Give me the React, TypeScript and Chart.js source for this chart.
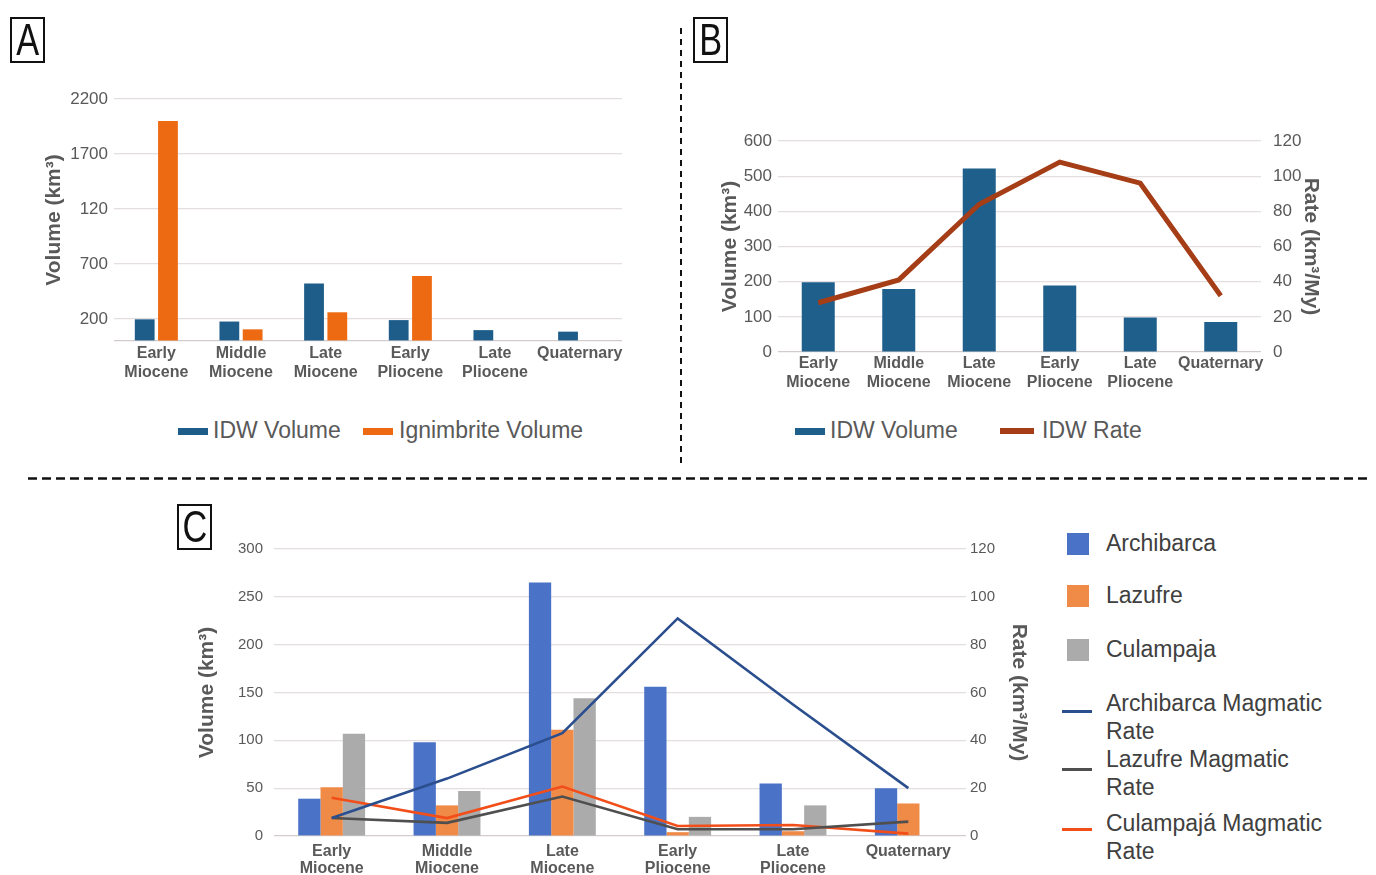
import React, { useEffect, useRef } from 'react';
import { Chart, registerables } from 'chart.js';

Chart.register(...registerables);

// ---------- shared categories ----------
const CATEGORIES: (string | string[])[] = [
  ['Early', 'Miocene'],
  ['Middle', 'Miocene'],
  ['Late', 'Miocene'],
  ['Early', 'Pliocene'],
  ['Late', 'Pliocene'],
  'Quaternary',
];

// ---------- Panel A ----------
const A_SERIES = ['IDW Volume', 'Ignimbrite Volume'];
const A_IDW_VOLUME = [197, 177, 522, 190, 99, 85];
const A_IGNIMBRITE_VOLUME = [2000, 106, 261, 591, 0, 0];
const A_TICK_VALUES = [0, 200, 700, 1200, 1700, 2200];
const A_TICK_LABELS = ['', '200', '700', '120', '1700', '2200'];

// ---------- Panel B ----------
const B_SERIES = ['IDW Volume', 'IDW Rate'];
const B_IDW_VOLUME = [198, 179, 522, 189, 98, 85];
const B_IDW_RATE = [28, 41, 84, 108, 96, 32];

// ---------- Panel C ----------
const C_BAR_SERIES = ['Archibarca', 'Lazufre', 'Culampaja'];
const C_LINE_SERIES = ['Archibarca Magmatic Rate', 'Lazufre Magmatic Rate', 'Culampajá Magmatic Rate'];
const C_ARCHIBARCA = [39, 98, 265, 156, 55, 50];
const C_LAZUFRE = [51, 32, 111, 4, 5, 34];
const C_CULAMPAJA = [107, 47, 144, 20, 32, 0];
const C_ARCHIBARCA_RATE = [7.5, 24, 43, 91, 55, 20];
const C_LAZUFRE_RATE = [7.5, 5.5, 16.5, 2.8, 2.8, 6];
const C_CULAMPAJA_RATE = [16, 7.5, 20.7, 4.2, 4.6, 1];

// ---------- styling ----------
const FONT = '"Liberation Sans", Arial, sans-serif';
const TICK_COLOR = '#595959';
const GRID_COLOR = '#E4DEDE';
const BASE_COLOR = '#D2CCCC';

const A_COLORS = ['#1E5D8A', '#EE6A12'];
const B_COLORS = ['#1F5F8B', '#A53D17'];
const C_BAR_COLORS = ['#4A72C6', '#EF8A47', '#ABABAB'];
const C_LINE_COLORS = ['#2A4E8E', '#4F4F4F', '#F24E1A'];

Chart.defaults.font.family = FONT;

const xLabelFont = (size: number, lh: number) => ({ family: FONT, size, weight: 'bold' as const, lineHeight: lh });
const titleFont = { family: FONT, size: 21, weight: 'bold' as const };
const gridColor = (ctx: any) => (ctx.tick && ctx.tick.value === 0 ? BASE_COLOR : GRID_COLOR);

function buildA() {
  return {
    type: 'bar',
    data: {
      labels: CATEGORIES,
      datasets: [
        { label: A_SERIES[0], data: A_IDW_VOLUME, backgroundColor: A_COLORS[0], categoryPercentage: 0.55, barPercentage: 0.85 },
        { label: A_SERIES[1], data: A_IGNIMBRITE_VOLUME, backgroundColor: A_COLORS[1], categoryPercentage: 0.55, barPercentage: 0.85 },
      ],
    },
    options: {
      responsive: false,
      animation: false,
      devicePixelRatio: 1,
      layout: { padding: { top: 39, left: 0, right: 58, bottom: 0 } },
      plugins: { legend: { display: false }, tooltip: { enabled: false } },
      scales: {
        x: {
          grid: { display: false, drawTicks: false },
          border: { display: false },
          ticks: { color: TICK_COLOR, font: xLabelFont(16, 1.2), padding: 3, maxRotation: 0, autoSkip: false },
          afterFit: (s: any) => { s.height = 45; },
        },
        y: {
          min: 0,
          max: 2200,
          afterBuildTicks: (s: any) => { s.ticks = A_TICK_VALUES.map((v) => ({ value: v })); },
          ticks: {
            color: TICK_COLOR,
            font: { family: FONT, size: 17 },
            padding: 6,
            callback: (v: any) => A_TICK_LABELS[A_TICK_VALUES.indexOf(Number(v))],
          },
          grid: { drawTicks: false, color: gridColor, lineWidth: 1.2 },
          border: { display: false },
          title: { display: true, text: 'Volume (km³)', color: TICK_COLOR, font: titleFont, padding: { top: 42, bottom: 0 } },
          afterFit: (s: any) => { s.width = 114; },
        },
      },
    },
  };
}

function buildB() {
  return {
    type: 'bar',
    data: {
      labels: CATEGORIES,
      datasets: [
        { type: 'line', label: B_SERIES[1], data: B_IDW_RATE, yAxisID: 'y1', borderColor: B_COLORS[1], backgroundColor: B_COLORS[1], borderWidth: 5, pointRadius: 0, tension: 0, order: 0 },
        { label: B_SERIES[0], data: B_IDW_VOLUME, yAxisID: 'y', backgroundColor: B_COLORS[0], categoryPercentage: 1, barPercentage: 0.41, order: 1 },
      ],
    },
    options: {
      responsive: false,
      animation: false,
      devicePixelRatio: 1,
      layout: { padding: { top: 81, left: 0, right: 0, bottom: 0 } },
      plugins: { legend: { display: false }, tooltip: { enabled: false } },
      scales: {
        x: {
          grid: { display: false, drawTicks: false },
          border: { display: false },
          ticks: { color: TICK_COLOR, font: xLabelFont(16, 1.2), padding: 2, maxRotation: 0, autoSkip: false },
          afterFit: (s: any) => { s.height = 45; },
        },
        y: {
          position: 'left',
          min: 0,
          max: 600,
          ticks: { stepSize: 100, color: TICK_COLOR, font: { family: FONT, size: 17 }, padding: 6 },
          grid: { drawTicks: false, color: gridColor, lineWidth: 1.2 },
          border: { display: false },
          title: { display: true, text: 'Volume (km³)', color: TICK_COLOR, font: titleFont, padding: { top: 37, bottom: 0 } },
          afterFit: (s: any) => { s.width = 97; },
        },
        y1: {
          position: 'right',
          min: 0,
          max: 120,
          ticks: { stepSize: 20, color: TICK_COLOR, font: { family: FONT, size: 17 }, padding: 12 },
          grid: { display: false, drawTicks: false },
          border: { display: false },
          title: { display: true, text: 'Rate (km³/My)', color: TICK_COLOR, font: titleFont, padding: { top: 53, bottom: 0 } },
          afterFit: (s: any) => { s.width = 115; },
        },
      },
    },
  };
}

function buildC() {
  const bars = [C_ARCHIBARCA, C_LAZUFRE, C_CULAMPAJA].map((d, i) => ({
    label: C_BAR_SERIES[i],
    data: d,
    yAxisID: 'y',
    backgroundColor: C_BAR_COLORS[i],
    categoryPercentage: 0.58,
    barPercentage: 1,
    order: 2,
  }));
  const lines = [C_ARCHIBARCA_RATE, C_LAZUFRE_RATE, C_CULAMPAJA_RATE].map((d, i) => ({
    type: 'line',
    label: C_LINE_SERIES[i],
    data: d,
    yAxisID: 'y1',
    borderColor: C_LINE_COLORS[i],
    backgroundColor: C_LINE_COLORS[i],
    borderWidth: 2.6,
    pointRadius: 0,
    tension: 0,
    order: 0,
  }));
  return {
    type: 'bar',
    data: { labels: CATEGORIES, datasets: [...lines, ...bars] },
    options: {
      responsive: false,
      animation: false,
      devicePixelRatio: 1,
      layout: { padding: { top: 29, left: 0, right: 0, bottom: 0 } },
      plugins: { legend: { display: false }, tooltip: { enabled: false } },
      scales: {
        x: {
          grid: { display: false, drawTicks: false },
          border: { display: false },
          ticks: { color: TICK_COLOR, font: xLabelFont(16, 1.07), padding: 7, maxRotation: 0, autoSkip: false },
          afterFit: (s: any) => { s.height = 39; },
        },
        y: {
          position: 'left',
          min: 0,
          max: 300,
          ticks: { stepSize: 50, color: TICK_COLOR, font: { family: FONT, size: 15 }, padding: 11 },
          grid: { drawTicks: false, color: gridColor, lineWidth: 1.2 },
          border: { display: false },
          title: { display: true, text: 'Volume (km³)', color: TICK_COLOR, font: titleFont, padding: { top: 15, bottom: 0 } },
          afterFit: (s: any) => { s.width = 94; },
        },
        y1: {
          position: 'right',
          min: 0,
          max: 120,
          ticks: { stepSize: 20, color: TICK_COLOR, font: { family: FONT, size: 15 }, padding: 4 },
          grid: { display: false, drawTicks: false },
          border: { display: false },
          title: { display: true, text: 'Rate (km³/My)', color: TICK_COLOR, font: titleFont, padding: { top: 19, bottom: 0 } },
          afterFit: (s: any) => { s.width = 84; },
        },
      },
    },
  };
}

function ChartCanvas({ left, top, width, height, build }: { left: number; top: number; width: number; height: number; build: () => any }) {
  const ref = useRef<HTMLCanvasElement | null>(null);
  useEffect(() => {
    if (!ref.current) return;
    const chart = new Chart(ref.current, build());
    return () => chart.destroy();
  }, []);
  return <canvas ref={ref} width={width} height={height} style={{ position: 'absolute', left, top, width, height }} />;
}

function PanelLabel({ text, left, top }: { text: string; left: number; top: number }) {
  return (
    <div
      style={{
        position: 'absolute',
        left,
        top,
        width: 35,
        height: 46,
        boxSizing: 'border-box',
        border: '2px solid #111',
        display: 'flex',
        alignItems: 'center',
        justifyContent: 'center',
        fontFamily: '"Liberation Sans", Arial, sans-serif',
        fontSize: 44,
        lineHeight: '46px',
        color: '#111',
        overflow: 'hidden',
      }}
    >
      <span style={{ display: 'inline-block', transform: 'scaleX(0.78)' }}>{text}</span>
    </div>
  );
}

function LegendItem({ left, top, color, markerW, markerH, text, textLeft, fontSize = 23, textColor = TICK_COLOR }: any) {
  return (
    <>
      <div style={{ position: 'absolute', left, top: top - markerH / 2, width: markerW, height: markerH, background: color }} />
      <div style={{ position: 'absolute', left: textLeft, top: top - fontSize * 0.6, fontFamily: FONT, fontSize, lineHeight: `${fontSize * 1.2}px`, color: textColor, whiteSpace: 'nowrap' }}>
        {text}
      </div>
    </>
  );
}

function WrappedLegend({ markerTop, top, color, lines }: { markerTop: number; top: number; color: string; lines: string[] }) {
  return (
    <>
      <div style={{ position: 'absolute', left: 1062, top: markerTop - 1.5, width: 30, height: 3.5, background: color }} />
      <div style={{ position: 'absolute', left: 1106, top, fontFamily: FONT, fontSize: 23, lineHeight: '28px', color: '#404040', whiteSpace: 'nowrap' }}>
        {lines.map((l, i) => (
          <div key={i}>{l}</div>
        ))}
      </div>
    </>
  );
}

export default function App() {
  return (
    <div style={{ position: 'absolute', left: 0, top: 0, width: 1376, height: 875, background: '#fff', overflow: 'hidden' }}>
      <ChartCanvas left={0} top={60} width={680} height={326} build={buildA} />
      <ChartCanvas left={681} top={60} width={695} height={337} build={buildB} />
      <ChartCanvas left={180} top={520} width={870} height={355} build={buildC} />

      {/* Legend A */}
      <LegendItem left={178} top={431} color={A_COLORS[0]} markerW={30} markerH={7} text={A_SERIES[0]} textLeft={213} />
      <LegendItem left={363} top={431} color={A_COLORS[1]} markerW={30} markerH={7} text={A_SERIES[1]} textLeft={399} />

      {/* Legend B */}
      <LegendItem left={795} top={431} color={B_COLORS[0]} markerW={30} markerH={7} text={B_SERIES[0]} textLeft={830} />
      <LegendItem left={1000} top={431} color={B_COLORS[1]} markerW={34} markerH={6} text={B_SERIES[1]} textLeft={1042} />

      {/* Legend C */}
      <LegendItem left={1067} top={544} color={C_BAR_COLORS[0]} markerW={22} markerH={22} text={C_BAR_SERIES[0]} textLeft={1106} textColor="#404040" />
      <LegendItem left={1067} top={596} color={C_BAR_COLORS[1]} markerW={22} markerH={22} text={C_BAR_SERIES[1]} textLeft={1106} textColor="#404040" />
      <LegendItem left={1067} top={650} color={C_BAR_COLORS[2]} markerW={22} markerH={22} text={C_BAR_SERIES[2]} textLeft={1106} textColor="#404040" />
      <WrappedLegend markerTop={711} top={689} color={C_LINE_COLORS[0]} lines={['Archibarca Magmatic', 'Rate']} />
      <WrappedLegend markerTop={769} top={745} color={C_LINE_COLORS[1]} lines={['Lazufre Magmatic', 'Rate']} />
      <WrappedLegend markerTop={829} top={809} color={C_LINE_COLORS[2]} lines={['Culampajá Magmatic', 'Rate']} />

      <PanelLabel text="A" left={10} top={17} />
      <PanelLabel text="B" left={693} top={17} />
      <PanelLabel text="C" left={177} top={504} />

      <svg width={1376} height={875} style={{ position: 'absolute', left: 0, top: 0, pointerEvents: 'none' }}>
        <line x1={681} y1={28} x2={681} y2={464} stroke="#111" strokeWidth={2} strokeDasharray="6 5" />
        <line x1={28} y1={478.5} x2={1372} y2={478.5} stroke="#111" strokeWidth={2.5} strokeDasharray="9 5" />
      </svg>
    </div>
  );
}
